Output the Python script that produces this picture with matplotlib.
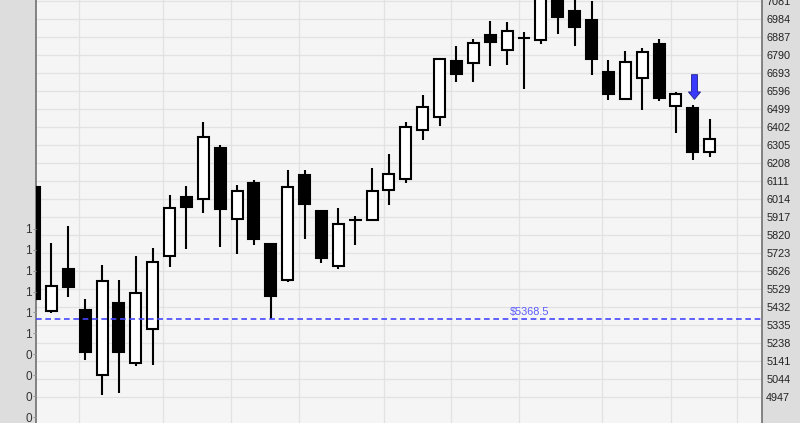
import matplotlib
matplotlib.use("Agg")
import matplotlib.pyplot as plt
from matplotlib.patches import Rectangle, FancyArrow

# OHLC, one entry per bar
opens = [6079, 5409, 5637, 5414, 5065, 5452, 5129, 5312, 5705, 6023,
         6014, 6287, 5906, 6100, 5770, 5577, 6143, 5949, 5651, 5901,
         5901, 6061, 6120, 6386, 6454, 6758, 6747, 6898, 6815, 6880,
         6871, 7120, 7027, 6979, 6697, 6554, 6664, 6849, 6515, 6503, 6267]
highs = [6106, 5775, 5868, 5475, 5658, 5577, 5707, 5750, 6036, 6084,
         6429, 6303, 6089, 6116, 5772, 6170, 6170, 5955, 5965, 5922,
         6179, 6256, 6427, 6574, 6770, 6838, 6876, 6973, 6968, 6914,
         7180, 7150, 7100, 7081, 6763, 6812, 6828, 6876, 6591, 6521, 6445]
lows = [5346, 5401, 5487, 5146, 4958, 4970, 5116, 5121, 5649, 5746,
        5937, 5757, 5719, 5768, 5368.5, 5568, 5800, 5671, 5635, 5768,
        5901, 5983, 6102, 6332, 6407, 6644, 6644, 6731, 6736, 6608,
        6848, 6905, 6840, 6684, 6549, 6546, 6495, 6544, 6371, 6226, 6242]
closes = [5475, 5543, 5538, 5188, 5574, 5191, 5506, 5676, 5967, 5969,
          6350, 5960, 6059, 5797, 5490, 6080, 5985, 5698, 5881, 5901,
          6059, 6147, 6404, 6511, 6770, 6689, 6853, 6862, 6921, 6880,
          7150, 6993, 6942, 6770, 6581, 6754, 6804, 6560, 6581, 6269, 6339]

support = 5368.5
signal_bar = 39

price_ticks = [4947 + 97 * k for k in range(23)]
grid_x = [2.64, 7.61, 11.64, 15.67, 20.7, 24.67, 28.7, 33.62, 37.7, 41.62]
left_ticks = list(range(10))
left_labels = ['0', '0', '0', '0', '1', '1', '1', '1', '1', '1']

fig = plt.figure(figsize=(8, 4.23), dpi=100, facecolor='#dddddd')
ax = fig.add_axes([36 / 800, 0, 726 / 800, 1])
ax.set_facecolor('#f5f5f5')
ax.set_xlim(0.089, 43.1)
ax.set_ylim(4807, 7086.4)

# clipped left axis (made first: twinx moves the host ticks to the left)
ax_l = ax.twinx()
ax_l.yaxis.tick_left()
ax_l.set_ylim(-0.287, 19.95)
ax_l.set_yticks(left_ticks)
ax_l.set_yticklabels(left_labels)
ax_l.tick_params(axis='y', length=2, width=0.8, color='#999999', pad=1,
                 labelsize=8.5, labelcolor='#333333')
for lab in ax_l.get_yticklabels():
    lab.set_family('Liberation Sans')
ax_l.set_xticks([])
for s in ax_l.spines.values():
    s.set_visible(False)

# grid
for p in price_ticks:
    ax.axhline(p, color='#e2e2e2', lw=0.9, zorder=0)
for gx in grid_x:
    ax.axvline(gx, color='#e2e2e2', lw=0.9, zorder=0)

# candles
body_w = 0.65
for i, (o, h, l, c) in enumerate(zip(opens, highs, lows, closes)):
    ax.vlines(i, l, h, color='black', lw=1.5, zorder=2)
    if o == c:
        ax.hlines(o, i - body_w / 2 - 0.05, i + body_w / 2 + 0.05,
                  color='black', lw=1.5, zorder=3)
        continue
    face = 'white' if c > o else 'black'
    ax.add_patch(Rectangle((i - body_w / 2, min(o, c)), body_w, abs(c - o),
                           facecolor=face, edgecolor='black', lw=1.5, zorder=3))

# support line
ax.axhline(support, color='#4646ff', lw=1.2, ls=(0, (3.4, 2.2)), zorder=4)
ax.text(29.35, support + 10, '\\$%.1f' % support, color='#5a5aff',
        fontsize=7.8, family='Liberation Sans', ha='center', va='bottom', zorder=4)

# sell arrow
tip = highs[signal_bar] + 30
ax.add_patch(FancyArrow(signal_bar + 0.1, tip + 133, 0, -133, width=0.36,
                        head_width=0.72, head_length=40, length_includes_head=True,
                        facecolor='#3a3aff', edgecolor='#20208a', lw=0.6, zorder=5))

# right price axis
ax.yaxis.tick_right()
ax.set_yticks(price_ticks)
ax.set_yticklabels([str(p) for p in price_ticks])
ax.tick_params(axis='y', which='both', left=False, labelleft=False,
               right=True, labelright=True, length=0, pad=3,
               labelsize=7.8, labelcolor='#222222')
for lab in ax.get_yticklabels():
    lab.set_family('Liberation Sans')
ax.set_xticks([])
for s in ['top', 'bottom']:
    ax.spines[s].set_visible(False)
for s in ['left', 'right']:
    ax.spines[s].set_color('#707070')
    ax.spines[s].set_linewidth(1.2)

fig.savefig('out.png', dpi=100, facecolor=fig.get_facecolor())
